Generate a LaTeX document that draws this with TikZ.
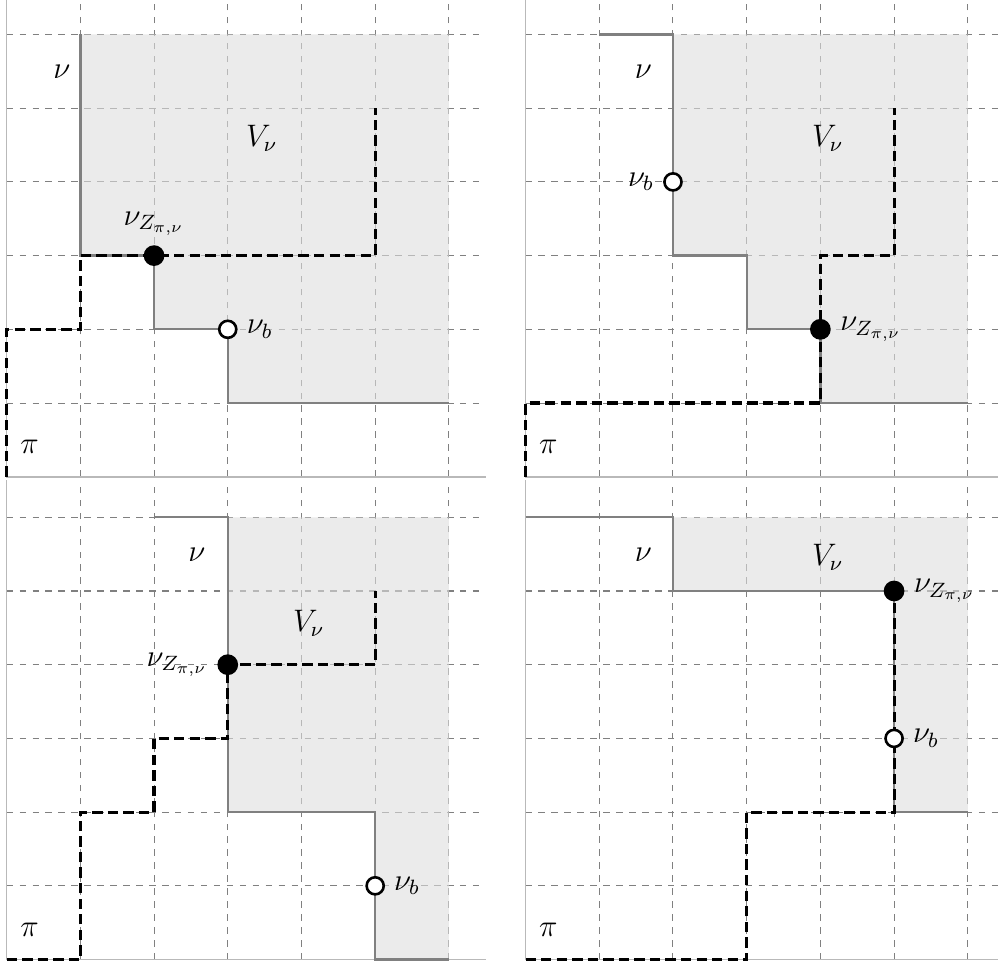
\documentclass[tikz,border=0pt]{standalone}
\usetikzlibrary{positioning}

\begin{document}
\begin{tikzpicture}
      [font=\large,
       gridline/.style={gray, line width=0.4pt, dash pattern=on 2.5pt off 2.5pt},
       axis/.style={gray!55, line width=0.6pt},
       nupath/.style={gray, line width=0.9pt},
       pipath/.style={black, line width=1.2pt, dash pattern=on 4pt off 2pt},
       region/.style={fill=gray!27, fill opacity=0.6},
       zdot/.style={circle, fill=black, inner sep=0pt, minimum size=8pt},
       bdot/.style={circle, draw=black, fill=white, line width=1pt, inner sep=0pt, minimum size=6.6pt}]
      \useasboundingbox (-0.09,-6.60) rectangle (13.45,6.468);

      % grid and axes of the four panels
      \foreach \dx/\dy in {0/0, 7.04/0, 0/-6.55, 7.04/-6.55}
      {
        \begin{scope}[shift={(\dx,\dy)}]
          \foreach \i in {1,...,6}
          {
            \draw [gridline] (\i,0) -- (\i,6.5);
            \draw [gridline] (0,\i) -- (6.5,\i);
          }
          \draw [axis] (0,6.5) -- (0,0) -- (6.5,0);
        \end{scope}
      }

      % top left
      \begin{scope}
        \fill [region] (1,6) -- (1,3) -- (2,3) -- (2,2) -- (3,2) -- (3,1) -- (6,1) -- (6,6) -- cycle;
        \draw [nupath] (1,6) -- (1,3) -- (2,3) -- (2,2) -- (3,2) -- (3,1) -- (6,1);
        \draw [pipath] (0,0) -- (0,2) -- (1,2) -- (1,3) -- (5,3) -- (5,5);
        \node [zdot] (za) at (2,3) {};
        \node [bdot] (ba) at (3,2) {};
        \node [above=0pt of za] (lza) {$\nu_{Z_{\pi,\nu}}$};
        \node [right=0pt of ba] (lba) {$\nu_b$};
        \node (nua) at (0.75,5.5) {$\nu$};
        \node (va) at (3.46,4.59) {$V_\nu$};
        \node (pia) at (0.31,0.41) {$\pi$};
      \end{scope}

      % top right
      \begin{scope}[shift={(7.04,0)}]
        \fill [region] (2,6) -- (2,3) -- (3,3) -- (3,2) -- (4,2) -- (4,1) -- (6,1) -- (6,6) -- cycle;
        \draw [nupath] (1,6) -- (2,6) -- (2,3) -- (3,3) -- (3,2) -- (4,2) -- (4,1) -- (6,1);
        \draw [pipath] (0,0) -- (0,1) -- (4,1) -- (4,3) -- (5,3) -- (5,5);
        \node [zdot] (zb) at (4,2) {};
        \node [bdot] (bb) at (2,4) {};
        \node [right=0pt of zb] (lzb) {$\nu_{Z_{\pi,\nu}}$};
        \node [left=0pt of bb] (lbb) {$\nu_b$};
        \node (nub) at (1.6,5.5) {$\nu$};
        \node (vb) at (4.1,4.59) {$V_\nu$};
        \node (pib) at (0.31,0.41) {$\pi$};
      \end{scope}

      % bottom left
      \begin{scope}[shift={(0,-6.55)}]
        \fill [region] (3,6) -- (3,2) -- (5,2) -- (5,0) -- (6,0) -- (6,6) -- cycle;
        \draw [nupath] (2,6) -- (3,6) -- (3,2) -- (5,2) -- (5,0) -- (6,0);
        \draw [pipath] (0,0) -- (1,0) -- (1,2) -- (2,2) -- (2,3) -- (3,3) -- (3,4) -- (5,4) -- (5,5);
        \node [zdot] (zc) at (3,4) {};
        \node [bdot] (bc) at (5,1) {};
        \node [left=0pt of zc] (lzc) {$\nu_{Z_{\pi,\nu}}$};
        \node [right=0pt of bc] (lbc) {$\nu_b$};
        \node (nuc) at (2.58,5.49) {$\nu$};
        \node (vc) at (4.1,4.56) {$V_\nu$};
        \node (pic) at (0.31,0.4) {$\pi$};
      \end{scope}

      % bottom right
      \begin{scope}[shift={(7.04,-6.55)}]
        \fill [region] (2,6) -- (2,5) -- (5,5) -- (5,2) -- (6,2) -- (6,6) -- cycle;
        \draw [nupath] (0,6) -- (2,6) -- (2,5) -- (5,5) -- (5,2) -- (6,2);
        \draw [pipath] (0,0) -- (3,0) -- (3,2) -- (5,2) -- (5,5);
        \node [zdot] (zd) at (5,5) {};
        \node [bdot] (bd) at (5,3) {};
        \node [right=0pt of zd] (lzd) {$\nu_{Z_{\pi,\nu}}$};
        \node [right=0pt of bd] (lbd) {$\nu_b$};
        \node (nud) at (1.6,5.49) {$\nu$};
        \node (vd) at (4.1,5.46) {$V_\nu$};
        \node (pid) at (0.31,0.4) {$\pi$};
      \end{scope}
    \end{tikzpicture}
\end{document}
